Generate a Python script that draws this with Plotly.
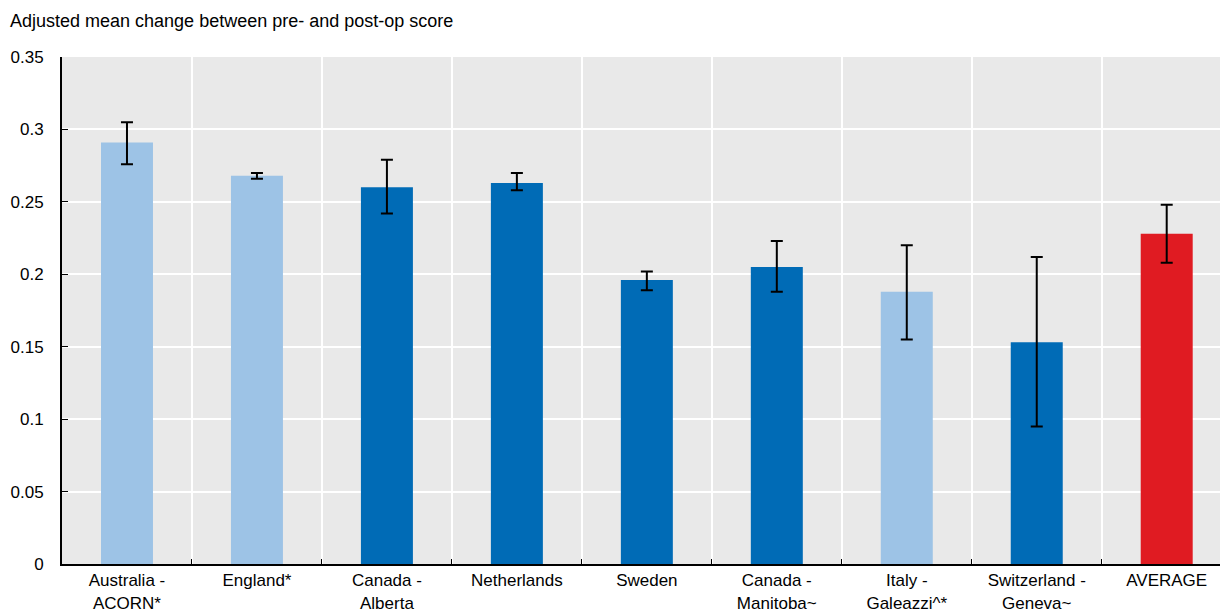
import plotly.graph_objects as go

categories = ["Australia -<br>ACORN*", "England*", "Canada -<br>Alberta", "Netherlands", "Sweden",
              "Canada -<br>Manitoba~", "Italy -<br>Galeazzi^*", "Switzerland -<br>Geneva~", "AVERAGE"]
values = [0.291, 0.268, 0.260, 0.263, 0.196, 0.205, 0.188, 0.153, 0.228]
upper = [0.305, 0.270, 0.279, 0.270, 0.202, 0.223, 0.220, 0.212, 0.248]
lower = [0.276, 0.266, 0.242, 0.258, 0.189, 0.188, 0.155, 0.095, 0.208]
colors = ["#9DC3E6", "#9DC3E6", "#006BB6", "#006BB6", "#006BB6", "#006BB6", "#9DC3E6", "#006BB6", "#E01B22"]
yticks = [0, 0.05, 0.1, 0.15, 0.2, 0.25, 0.3, 0.35]
ytick_text = ["0", "0.05", "0.1", "0.15", "0.2", "0.25", "0.3", "0.35"]

err_plus = [u - v for u, v in zip(upper, values)]
err_minus = [v - l for v, l in zip(values, lower)]

font_family = "Liberation Sans, Arial, sans-serif"

fig = go.Figure(go.Bar(
    x=categories, y=values,
    marker=dict(color=colors, line=dict(width=0)),
    width=0.4,
    error_y=dict(type="data", symmetric=False, array=err_plus, arrayminus=err_minus,
                 color="black", thickness=2, width=6),
))

fig.update_layout(
    width=1220, height=613,
    margin=dict(l=62, r=0, t=57, b=49),
    paper_bgcolor="white", plot_bgcolor="#E9E9E9",
    showlegend=False,
    font=dict(family=font_family, size=17, color="black"),
    title=dict(text="Adjusted mean change between pre- and post-op score",
               xref="container", x=10 / 1220, xanchor="left",
               yref="container", y=1 - 21 / 613, yanchor="middle",
               font=dict(family=font_family, size=18, color="black")),
    bargap=0.6,
)
fig.update_xaxes(
    range=[-0.5, 8.41], tickson="boundaries", ticks="inside", ticklen=5, tickcolor="black",
    showgrid=True, gridcolor="white", gridwidth=2,
    showline=True, linecolor="black", linewidth=2,
    tickfont=dict(family=font_family, size=17, color="black"),
    automargin=False,
)
fig.update_yaxes(
    range=[0, 0.35], tickvals=yticks, ticktext=ytick_text,
    ticks="inside", ticklen=6, tickcolor="black",
    showgrid=True, gridcolor="white", gridwidth=2, zeroline=False,
    showline=True, linecolor="black", linewidth=2,
    tickfont=dict(family=font_family, size=17, color="black"),
    ticklabelstandoff=13,
    automargin=False,
)

fig.write_html("out.html", config={"displayModeBar": False},
               post_script="document.body.style.margin='0';document.body.style.overflow='hidden';")
